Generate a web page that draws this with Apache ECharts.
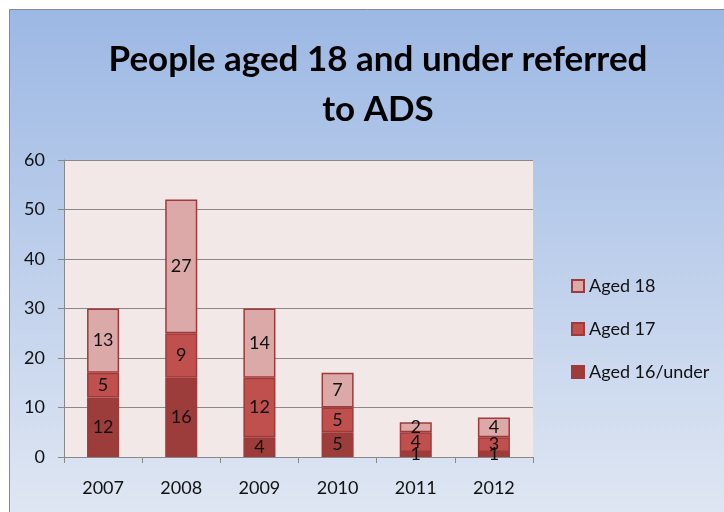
<!DOCTYPE html>
<html><head><meta charset="utf-8">
<script src="https://cdn.jsdelivr.net/npm/echarts@6/dist/echarts.min.js"></script>
<style>html,body{margin:0;padding:0;background:#fff}#c{width:724px;height:512px}</style>
</head><body><div id="c"></div>
<script>
const years = ['2007','2008','2009','2010','2011','2012'];
const aged16under = [12,16,4,5,1,1];
const aged17 = [5,9,12,5,4,3];
const aged18 = [13,27,14,7,2,4];
const yTicks = [0,10,20,30,40,50,60];

const chart = echarts.init(document.getElementById('c'));
const F = 'Lato, "Open Sans", sans-serif';
const lbl = {show:true, position:'inside', color:'#111', fontFamily:F, fontSize:18};
function ser(name, data, color){
  return {name, type:'bar', stack:'a', data, barWidth:'41%',
    itemStyle:{color, borderColor:'#a0393a', borderWidth:1.5}, label:lbl};
}
chart.setOption({
  animation:false,
  graphic:[{type:'rect', z:-10, shape:{x:9.5,y:9.5,width:720,height:510},
    style:{fill:new echarts.graphic.LinearGradient(0,0,0,1,[{offset:0,color:'#9cb8e4'},{offset:1,color:'#e0e7f3'}]), stroke:'#888', lineWidth:1}}],
  title:{text:'People aged 18 and under referred\nto ADS', left:373, textAlign:'center', top:30,
    textStyle:{fontFamily:F, fontSize:35, fontWeight:'bold', color:'#000', lineHeight:50}},
  legend:{data:['Aged 18','Aged 17','Aged 16/under'], orient:'vertical', left:566, top:272, itemGap:25,
    itemWidth:12, itemHeight:12, icon:'rect', textStyle:{fontFamily:F, fontSize:18, color:'#111'}},
  grid:{left:64, right:191, top:160, bottom:55, show:true, backgroundColor:'#f2e8e8', borderWidth:0},
  xAxis:{type:'category', data:years, axisLine:{lineStyle:{color:'#888'}},
    axisTick:{show:true, length:6, lineStyle:{color:'#888'}},
    axisLabel:{fontFamily:F, fontSize:18, color:'#111', margin:22}},
  yAxis:{type:'value', min:0, max:60, interval:10,
    axisLine:{show:true, lineStyle:{color:'#888'}}, axisTick:{show:true, length:6, lineStyle:{color:'#888'}},
    splitLine:{lineStyle:{color:'#888'}},
    axisLabel:{fontFamily:F, fontSize:18, color:'#111', margin:19,
      formatter:v=>yTicks.includes(v)?String(v):''}},
  series:[ser('Aged 16/under', aged16under, '#9d3d3b'), ser('Aged 17', aged17, '#c0504d'), ser('Aged 18', aged18, '#dba9a8')]
});
</script></body></html>
